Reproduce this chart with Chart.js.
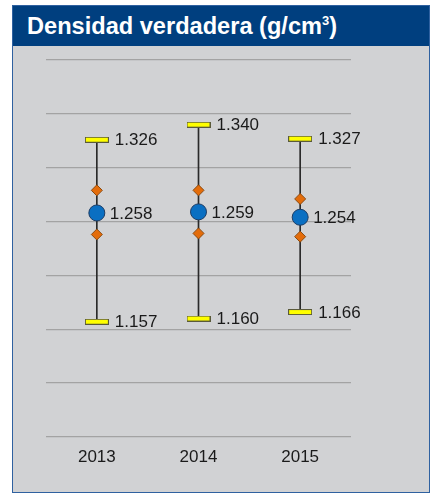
<!DOCTYPE html>
<html>
<head>
<meta charset="utf-8">
<script src="https://cdn.jsdelivr.net/npm/chart.js@4/dist/chart.umd.min.js"></script>
<style>
  html, body { margin: 0; padding: 0; background: #ffffff; }
  body { width: 433px; height: 496px; position: relative; overflow: hidden; font-family: "Liberation Sans", Arial, sans-serif; }
  #panel { position: absolute; left: 12px; top: 5px; width: 416px; height: 486px; border: 1px solid #2f61a0; background: #d1d2d4; }
  #header { position: absolute; left: 0; top: 0; width: 416px; height: 40px; background: #003f7f; color: #ffffff; font-weight: bold; font-size: 23.6px; line-height: 41px; padding-left: 14px; box-sizing: border-box; white-space: nowrap; }
  #header sup { font-size: 13px; vertical-align: 0; position: relative; top: -9px; }
  #chart { position: absolute; left: 0; top: 0; }
</style>
</head>
<body>
<div id="panel"><div id="header">Densidad verdadera (g/cm<sup>3</sup>)</div></div>
<canvas id="chart" width="433" height="496"></canvas>
<script>
// ---- data ----
const years = ['2013', '2014', '2015'];
const maxVals = [1.326, 1.340, 1.327];
const minVals = [1.157, 1.160, 1.166];
const meanVals = [1.258, 1.259, 1.254];
const upperVals = [1.279, 1.279, 1.271];
const lowerVals = [1.238, 1.239, 1.236];
const yMin = 1.05;
const yMax = 1.40;
const yStep = 0.05;

// cap marker image
function makeCap() {
  const c = document.createElement('canvas');
  c.width = 24; c.height = 6;
  const g = c.getContext('2d');
  g.fillStyle = '#5a5a3a';
  g.fillRect(0, 0, 24, 6);
  g.fillStyle = '#ffff00';
  g.fillRect(1, 1, 22, 4);
  return c;
}
const capImg = makeCap();

const valueLabels = {
  id: 'valueLabels',
  afterDatasetsDraw(chart) {
    const ctx = chart.ctx;
    ctx.save();
    ctx.font = '17px "Liberation Sans", Arial, sans-serif';
    ctx.fillStyle = '#1a1a1a';
    ctx.textAlign = 'left';
    ctx.textBaseline = 'middle';
    chart.data.datasets.forEach((ds, di) => {
      if (!ds.labelOffset) return;
      const meta = chart.getDatasetMeta(di);
      meta.data.forEach((pt, i) => {
        ctx.fillText(ds.data[i].toFixed(3), pt.x + ds.labelOffset, pt.y + 1);
      });
    });
    ctx.restore();
  }
};

new Chart(document.getElementById('chart'), {
  data: {
    labels: years,
    datasets: [
      {
        type: 'line', label: 'Media', data: meanVals, showLine: false,
        pointStyle: 'circle', pointRadius: 8, pointHoverRadius: 8,
        pointBackgroundColor: '#0a6fc2', pointBorderColor: '#1d3c64', pointBorderWidth: 1,
        labelOffset: 13
      },
      {
        type: 'line', label: 'Superior', data: upperVals, showLine: false,
        pointStyle: 'rectRot', pointRadius: 5.5, pointHoverRadius: 5.5,
        pointBackgroundColor: '#e36c0a', pointBorderColor: '#8a4a10', pointBorderWidth: 1
      },
      {
        type: 'line', label: 'Inferior', data: lowerVals, showLine: false,
        pointStyle: 'rectRot', pointRadius: 5.5, pointHoverRadius: 5.5,
        pointBackgroundColor: '#e36c0a', pointBorderColor: '#8a4a10', pointBorderWidth: 1
      },
      {
        type: 'line', label: 'Máximo', data: maxVals, showLine: false,
        pointStyle: capImg, pointRadius: 12,
        labelOffset: 18
      },
      {
        type: 'line', label: 'Mínimo', data: minVals, showLine: false,
        pointStyle: capImg, pointRadius: 12,
        labelOffset: 18
      },
      {
        type: 'bar', label: 'Rango', data: minVals.map((v, i) => [v, maxVals[i]]),
        backgroundColor: '#2a2a2a', borderWidth: 0, barThickness: 1
      }
    ]
  },
  options: {
    responsive: false,
    animation: false,
    devicePixelRatio: 1,
    layout: { padding: { left: 46, right: 82, top: 60, bottom: 0 } },
    plugins: { legend: { display: false }, tooltip: { enabled: false }, title: { display: false } },
    scales: {
      x: {
        type: 'category',
        offset: true,
        grid: { display: false, drawTicks: false },
        border: { display: false },
        ticks: { color: '#1a1a1a', font: { family: '"Liberation Sans", Arial, sans-serif', size: 17 }, padding: 10 },
        afterFit(s) { s.height = 59; }
      },
      y: {
        min: yMin, max: yMax,
        ticks: { display: false, stepSize: yStep },
        grid: { color: '#a3a3a3', lineWidth: 1.3, drawTicks: false },
        border: { display: false },
        afterFit(s) { s.width = 0; }
      }
    }
  },
  plugins: [valueLabels]
});
</script>
</body>
</html>
